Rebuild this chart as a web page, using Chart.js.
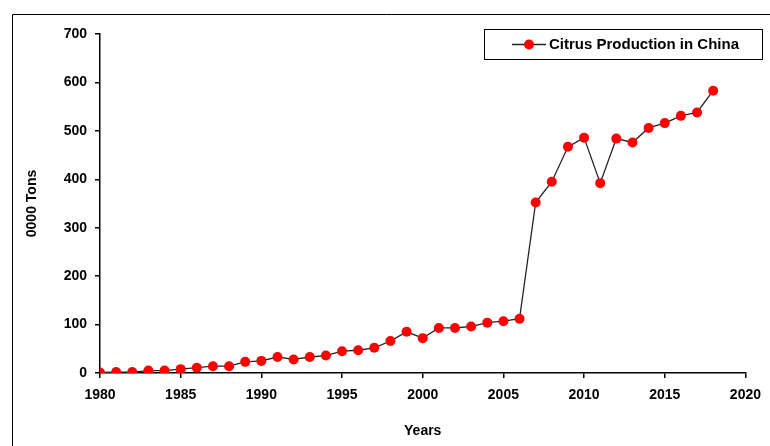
<!DOCTYPE html>
<html>
<head>
<meta charset="utf-8">
<script src="https://cdn.jsdelivr.net/npm/chart.js@4/dist/chart.umd.min.js"></script>
<style>
  html, body { margin: 0; padding: 0; background: #fff; }
  #wrap { width: 770px; height: 446px; position: relative; }
</style>
</head>
<body>
<div id="wrap"><canvas id="citrus" width="770" height="446"></canvas></div>
<script>
const years = [
  1980, 1981, 1982, 1983, 1984, 1985, 1986, 1987, 1988, 1989,
  1990, 1991, 1992, 1993, 1994, 1995, 1996, 1997, 1998, 1999,
  2000, 2001, 2002, 2003, 2004, 2005, 2006, 2007, 2008, 2009,
  2010, 2011, 2012, 2013, 2014, 2015, 2016, 2017, 2018,
];
const production = [
  1, 2, 2, 5, 5, 8, 11, 14, 14, 23,
  25, 33, 28, 33, 36, 45, 47, 52, 66, 85,
  72, 93, 93, 96, 104, 107, 112, 352, 395, 467,
  486, 392, 484, 476, 506, 516, 531, 538, 583,
];
const seriesName = "Citrus Production in China";
const xTitle = "Years";
const yTitle = "0000 Tons";

const tickFont = { family: "'Liberation Sans', Arial, sans-serif", size: 14, weight: "bold" };

// frame round the picture + boxed legend
const decor = {
  id: "decor",
  beforeDraw(chart) {
    const ctx = chart.ctx;
    ctx.save();
    ctx.strokeStyle = "#000";
    ctx.lineWidth = 1;
    ctx.beginPath();
    ctx.moveTo(12.5, 446);
    ctx.lineTo(12.5, 14.5);
    ctx.lineTo(770, 14.5);
    ctx.stroke();
    ctx.restore();
  },
  afterDraw(chart) {
    const ctx = chart.ctx;
    ctx.save();
    ctx.strokeStyle = "#000";
    ctx.lineWidth = 1;
    ctx.fillStyle = "#fff";
    ctx.fillRect(484.5, 29.5, 278, 30);
    ctx.strokeRect(484.5, 29.5, 278, 30);
    // sample line and marker
    ctx.strokeStyle = "#222";
    ctx.lineWidth = 1.3;
    ctx.beginPath();
    ctx.moveTo(512, 44.5);
    ctx.lineTo(546, 44.5);
    ctx.stroke();
    ctx.fillStyle = "#ff0000";
    ctx.beginPath();
    ctx.arc(529, 44.5, 5, 0, Math.PI * 2);
    ctx.fill();
    ctx.fillStyle = "#000";
    ctx.font = "bold 15px 'Liberation Sans', Arial, sans-serif";
    ctx.textBaseline = "middle";
    ctx.textAlign = "left";
    ctx.fillText(seriesName, 549, 45);
    ctx.restore();
  },
};

new Chart(document.getElementById("citrus"), {
  type: "line",
  data: {
    datasets: [
      {
        label: seriesName,
        data: years.map((y, i) => ({ x: y, y: production[i] })),
        borderColor: "#222",
        borderWidth: 1.3,
        backgroundColor: "#ff0000",
        pointBackgroundColor: "#ff0000",
        pointBorderColor: "#ff0000",
        pointRadius: 5,
        pointBorderWidth: 0,
        tension: 0,
        fill: false,
      },
    ],
  },
  options: {
    responsive: false,
    animation: false,
    events: [],
    layout: { padding: { left: 0, right: 21, top: 34, bottom: 0 } },
    plugins: {
      legend: { display: false },
      tooltip: { enabled: false },
    },
    scales: {
      x: {
        type: "linear",
        min: 1980,
        max: 2020,
        afterFit: (scale) => { scale.height = 73; },
        border: { display: true, color: "#000", width: 1.5 },
        grid: { display: true, drawOnChartArea: false, drawTicks: true, tickLength: 5, color: "#000", lineWidth: 1.5 },
        ticks: {
          stepSize: 5,
          color: "#000",
          font: tickFont,
          padding: 9,
          maxRotation: 0,
          callback: (v) => String(v),
        },
        title: {
          display: true,
          text: xTitle,
          color: "#000",
          font: tickFont,
          padding: { top: 0, bottom: 6 },
        },
      },
      y: {
        min: 0,
        max: 700,
        afterFit: (scale) => { scale.width = 100; },
        border: { display: true, color: "#000", width: 1.5 },
        grid: { display: true, drawOnChartArea: false, drawTicks: true, tickLength: 5, color: "#000", lineWidth: 1.5 },
        ticks: {
          stepSize: 100,
          color: "#000",
          font: tickFont,
          padding: 8,
        },
        title: {
          display: true,
          text: yTitle,
          color: "#000",
          font: tickFont,
          padding: { top: 24, bottom: 0 },
        },
      },
    },
  },
  plugins: [decor],
});
</script>
</body>
</html>
